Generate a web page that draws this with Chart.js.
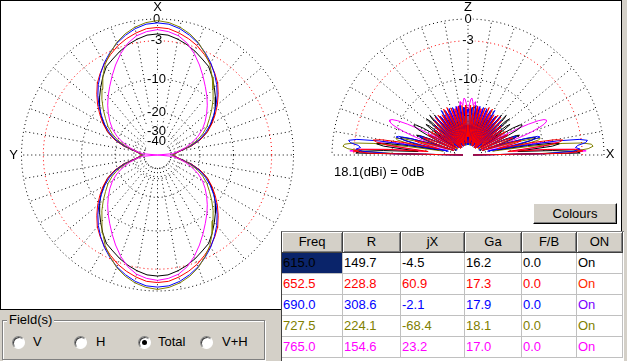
<!DOCTYPE html>
<html>
<head>
<meta charset="utf-8">
<script src="https://cdn.jsdelivr.net/npm/chart.js@4.4.1/dist/chart.umd.min.js"></script>
<style>
*{box-sizing:border-box;}
html,body{margin:0;padding:0;}
body{width:627px;height:361px;background:#d4d0c8;position:relative;overflow:hidden;font-family:"Liberation Sans",Arial,sans-serif;font-size:13px;color:#000;}
#panel{position:absolute;left:0;top:0;width:622px;height:310px;background:#fff;border:1px solid #000;}
#cvL{position:absolute;left:1px;top:1px;}
#cvR{position:absolute;left:300px;top:1px;}
#btn{position:absolute;left:533px;top:203px;width:84px;height:21px;background:#d4d0c8;border:1px solid;border-color:#fff #000 #000 #fff;box-shadow:inset -1px -1px #808080;text-align:center;line-height:19px;}
#grid{position:absolute;left:281px;top:231px;width:343px;height:130px;border-left:1px solid #404040;border-top:1px solid #808080;background:#fff;}
.c{position:absolute;height:21px;line-height:20px;white-space:nowrap;overflow:hidden;border-right:1px solid #c0c0c0;border-bottom:1px solid #c0c0c0;padding-left:1px;}
.h{background:#d4d0c8;text-align:center;border-right:1px solid #404040;border-bottom:1px solid #404040;box-shadow:inset 1px 1px #fff, inset -1px -1px #808080;padding-left:0;}
.sel{background:#0a246a;}
#grp{position:absolute;left:2px;top:320px;width:263px;height:40px;border:1px solid #808080;box-shadow:1px 1px #fff, inset 1px 1px #fff;}
#grpt{position:absolute;left:7px;top:312px;background:#d4d0c8;padding:0 2px;line-height:16px;}
.rb{position:absolute;width:13px;height:13px;border-radius:50%;background:#fff;border:1px solid;border-color:#808080 #fff #fff #808080;box-shadow:inset 1px 1px #404040;}
.rb.on::after{content:"";position:absolute;left:3px;top:3px;width:5px;height:5px;border-radius:50%;background:#000;}
.rl{position:absolute;line-height:16px;}
</style>
</head>
<body>
<div id="panel"></div>
<canvas id="cvL" width="299" height="308"></canvas>
<canvas id="cvR" width="321" height="199"></canvas>
<div id="btn">Colours</div>
<div id="grid"></div>
<div id="grp"></div>
<div id="grpt">Field(s)</div>
<script>
// ---------- data ----------
const FREQS = ['615.0','652.5','690.0','727.5','765.0'];
const SERIES_COLORS = ['#000000','#ff0000','#0000ff','#808000','#ff00ff'];
const R_VALS = ['149.7','228.8','308.6','224.1','154.6'];
const JX_VALS = ['-4.5','60.9','-2.1','-68.4','23.2'];
const GA_VALS = ['16.2','17.3','17.9','18.1','17.0'];
const FB_VALS = ['0.0','0.0','0.0','0.0','0.0'];
const ON_VALS = ['On','On','On','On','On'];
const ON_COLORS = ['#000000','#ff2a00','#7a00ff','#808000','#ff00ff'];
const TABLE_HEADERS = ['Freq','R','jX','Ga','F/B','ON'];
const FIELD_OPTIONS = ['V','H','Total','V+H'];
const FIELD_SELECTED = 'Total';

// ring levels (dB) and their tick labels
const GRID_LEVELS = [0,-3,-10,-20,-30,-40];
const GRID_LABELS = ['0','-3','-10','-20','-30','-40'];
const REF_TEXT = '18.1(dBi) = 0dB';

// horizontal (azimuth) pattern, angle from X axis, dB (one quadrant; pattern is symmetric)
const AZ_ANGLES = [0,5,10,15,20,25,30,35,40,45,50,55,60,65,70,75,80,85,90];
const AZ_615 = [-2.0,-2.1,-2.5,-3.0,-3.6,-4.3,-4.9,-6.1,-7.4,-8.7,-10.1,-11.6,-13.5,-15.5,-18.6,-23.3,-30.5,-34.7,-37.8];
const AZ_652 = [-1.1,-1.2,-1.6,-2.1,-2.7,-3.5,-4.3,-5.3,-6.4,-7.9,-9.5,-11.3,-13.2,-15.5,-18.6,-23.3,-30.5,-34.7,-37.8];
const AZ_690 = [-0.5,-0.6,-1.0,-1.6,-2.3,-3.2,-4.2,-5.4,-6.7,-8.2,-9.9,-11.8,-13.8,-16.2,-19.2,-24.0,-31.3,-35.7,-37.8];
const AZ_727 = [-0.2,-0.4,-0.8,-1.4,-2.2,-3.3,-4.5,-6.1,-7.8,-9.4,-11.2,-13.1,-14.9,-17.2,-20.2,-24.8,-32.1,-35.7,-37.8];
const AZ_765 = [-1.4,-1.6,-2.0,-2.8,-4.0,-5.4,-6.9,-8.4,-9.8,-11.3,-12.9,-14.6,-16.5,-19.0,-22.3,-26.5,-31.3,-37.8,-100];

// vertical (elevation) pattern, elevation 0..90 deg, dB (mirrored to 180)
const EL_ANGLES = [0,1,2,3,4,5,6,7,8,9,10,11,12,13,14,15,16,17,18,19,20,21,22,23,24,25,26,27,28,29,30,31,32,33,34,35,36,37,38,39,40,41,42,43,44,45,46,47,48,49,50,51,52,53,54,55,56,57,58,59,60,61,62,63,64,65,66,67,68,69,70,71,72,73,74,75,76,77,78,79,80,81,82,83,84,85,86,87,88,89,90];
const EL_615 = [-56.7,-3.3,-4.0,-8.1,-17.2,-14.0,-8.1,-6.7,-8.1,-14.0,
 -25.9,-21.0,-15.5,-12.7,-11.4,-11.9,-14.6,-21.0,-31.3,-23.3,
 -17.9,-15.5,-16.5,-21.0,-32.9,-27.1,-19.0,-15.5,-14.0,-13.5,
 -14.0,-16.5,-23.3,-37.8,-25.9,-19.0,-16.5,-17.9,-29.1,-34.7,
 -20.2,-15.5,-17.2,-31.3,-29.1,-17.2,-15.5,-25.9,-39.0,-19.0,
 -16.5,-23.3,-41.7,-21.0,-17.9,-29.1,-37.8,-20.2,-19.0,-37.8,
 -29.1,-21.0,-25.9,-41.7,-22.8,-21.9,-37.8,-31.3,-23.3,-29.1,
 -41.7,-25.9,-23.3,-37.8,-32.9,-23.6,-31.3,-41.7,-25.9,-24.8,
 -39.0,-32.9,-24.8,-29.1,-41.7,-27.1,-25.9,-37.8,-31.3,-25.9,
 -27.1];
const EL_652 = [-56.7,-5.6,-2.9,-4.0,-9.1,-21.0,-15.5,-9.1,-6.7,-6.0,
 -7.5,-12.7,-25.9,-23.3,-17.2,-15.5,-17.9,-25.9,-37.8,-25.9,
 -20.2,-17.9,-19.4,-25.9,-39.0,-25.9,-20.2,-19.0,-23.3,-37.8,
 -29.1,-21.0,-19.4,-24.8,-41.7,-25.9,-20.2,-21.9,-34.7,-32.9,
 -21.0,-19.4,-31.3,-44.8,-22.8,-17.9,-28.4,-44.8,-25.9,-17.2,
 -23.8,-44.8,-28.4,-17.2,-21.0,-41.7,-32.9,-17.9,-18.6,-39.0,
 -37.8,-19.4,-16.5,-31.3,-44.8,-21.9,-16.5,-24.8,-44.8,-25.9,
 -17.2,-20.2,-41.7,-31.3,-17.9,-17.9,-37.8,-34.7,-18.6,-17.2,
 -32.9,-41.7,-21.0,-17.2,-25.9,-41.7,-24.8,-17.2,-20.2,-34.7,
 -25.9];
const EL_690 = [-56.7,-10.2,-4.4,-3.3,-4.0,-3.6,-2.4,-2.1,-3.3,-7.1,
 -17.2,-32.9,-19.0,-12.7,-10.4,-10.9,-14.0,-21.9,-37.8,-24.8,
 -19.0,-16.5,-17.9,-24.8,-41.7,-27.1,-21.0,-19.4,-21.9,-32.9,
 -37.8,-24.8,-21.0,-22.8,-34.7,-31.3,-21.9,-20.2,-29.1,-41.7,
 -29.1,-19.0,-21.0,-39.0,-41.7,-21.0,-17.9,-29.1,-44.8,-27.1,
 -17.2,-21.9,-44.8,-34.7,-17.9,-18.6,-39.0,-41.7,-21.0,-16.5,
 -25.9,-44.8,-27.1,-17.2,-19.4,-41.7,-34.7,-17.9,-17.2,-37.8,
 -41.7,-21.0,-17.2,-23.3,-44.8,-27.1,-17.2,-19.4,-39.0,-32.9,
 -18.6,-17.2,-31.3,-41.7,-21.0,-17.9,-27.1,-44.8,-25.9,-18.6,
 -19.4];
const EL_727 = [-56.7,-11.4,-4.4,-2.1,-1.4,-1.6,-2.9,-6.2,-14.0,-29.1,
 -21.0,-13.5,-10.9,-10.4,-11.9,-16.5,-25.9,-37.8,-25.9,-19.0,
 -17.2,-17.9,-21.0,-29.1,-37.8,-25.9,-21.0,-20.2,-22.8,-31.3,
 -41.7,-27.1,-21.9,-21.0,-24.8,-37.8,-29.1,-23.3,-25.9,-37.8,
 -27.1,-21.9,-32.9,-44.8,-25.9,-21.0,-31.3,-44.8,-29.8,-21.0,
 -25.9,-44.8,-34.7,-21.9,-22.8,-41.7,-39.0,-22.8,-21.0,-36.7,
 -44.8,-24.8,-20.2,-29.8,-44.8,-28.4,-20.2,-24.8,-44.8,-32.9,
 -21.0,-21.9,-41.7,-36.7,-21.0,-20.2,-36.7,-44.8,-23.8,-19.4,
 -28.4,-44.8,-27.1,-20.2,-22.8,-41.7,-32.9,-21.0,-21.0,-34.7,
 -29.1];
const EL_765 = [-56.7,-5.3,-2.4,-3.6,-9.1,-19.0,-14.0,-8.7,-7.1,-8.1,
 -12.7,-23.3,-31.3,-21.0,-18.6,-21.9,-32.9,-25.9,-19.0,-14.6,
 -11.9,-10.0,-8.7,-8.1,-7.9,-8.3,-9.5,-11.9,-15.5,-21.9,
 -32.9,-25.9,-21.9,-23.3,-34.7,-29.1,-22.8,-21.0,-27.1,-41.7,
 -37.8,-25.9,-21.9,-32.9,-44.8,-29.1,-21.0,-25.9,-41.7,-34.7,
 -21.9,-20.2,-32.9,-44.8,-25.9,-19.4,-24.8,-41.7,-32.9,-20.2,
 -19.0,-31.3,-44.8,-23.3,-18.6,-25.9,-41.7,-27.1,-18.6,-21.0,
 -39.0,-31.3,-19.4,-17.9,-32.9,-37.8,-21.0,-17.2,-23.3,-37.8,
 -25.9,-17.2,-15.9,-16.5,-17.2,-15.9,-14.9,-15.2,-16.5,-18.6,
 -20.2];

const AZ_SERIES = [AZ_615, AZ_652, AZ_690, AZ_727, AZ_765];
const EL_SERIES = [EL_615, EL_652, EL_690, EL_727, EL_765];
// drawing order (higher drawn first, i.e. underneath)
const AZ_ORDER = [5,4,3,2,1];
const EL_ORDER = [3,1,2,4,5];

// ---------- UI (table, radios) ----------
(function buildUI(){
  const g = document.getElementById('grid');
  const lefts = [0,61,119,183,240,295], widths = [61,58,64,57,55,46];
  TABLE_HEADERS.forEach((h,i)=>{
    const d=document.createElement('div'); d.className='c h';
    d.style.left=lefts[i]+'px'; d.style.top='0px'; d.style.width=widths[i]+'px'; d.textContent=h; g.appendChild(d);
  });
  FREQS.forEach((f,r)=>{
    const vals=[f,R_VALS[r],JX_VALS[r],GA_VALS[r],FB_VALS[r],ON_VALS[r]];
    vals.forEach((v,i)=>{
      const d=document.createElement('div'); d.className='c'+(r===0&&i===0?' sel':'');
      d.style.left=lefts[i]+'px'; d.style.top=(21+21*r)+'px'; d.style.width=widths[i]+'px';
      d.style.color = i===5 ? ON_COLORS[r] : SERIES_COLORS[r];
      d.textContent=v; g.appendChild(d);
    });
  });
  const cxs=[12,74,138,200], lx=[33,96,158,222];
  FIELD_OPTIONS.forEach((o,i)=>{
    const b=document.createElement('div'); b.className='rb'+(o===FIELD_SELECTED?' on':'');
    b.style.left=cxs[i]+'px'; b.style.top='336px'; document.body.appendChild(b);
    const l=document.createElement('div'); l.className='rl'; l.textContent=o;
    l.style.left=lx[i]+'px'; l.style.top='334px'; document.body.appendChild(l);
  });
})();

// ---------- polar helpers (ARRL log scale: 0.89 per 2 dB) ----------
const R0 = 136;
function rad(db){ return db <= -99 ? 0 : R0*Math.pow(0.89, -db/2); }
function azPoints(vals){
  const pts=[], n=AZ_ANGLES.length;
  const push=(phi,db)=>{const r=rad(db), a=phi*Math.PI/180; pts.push({x:r*Math.sin(a), y:r*Math.cos(a)});};
  for(let i=0;i<n;i++) push(AZ_ANGLES[i], vals[i]);
  for(let i=n-2;i>=0;i--) push(180-AZ_ANGLES[i], vals[i]);
  for(let i=1;i<n;i++) push(180+AZ_ANGLES[i], vals[i]);
  for(let i=n-2;i>=0;i--) push(360-AZ_ANGLES[i], vals[i]);
  return pts;
}
function elPoints(vals){
  const pts=[], n=EL_ANGLES.length;
  const push=(t,db)=>{const r=rad(db), a=t*Math.PI/180; pts.push({x:r*Math.cos(a), y:r*Math.sin(a)});};
  for(let i=0;i<n;i++) push(EL_ANGLES[i], vals[i]);
  for(let i=n-2;i>=0;i--) push(180-EL_ANGLES[i], vals[i]);
  return pts;
}
function ring(level, from, to){
  const r=rad(level), pts=[];
  for(let a=from;a<=to;a+=2){const t=a*Math.PI/180; pts.push({x:r*Math.cos(t), y:r*Math.sin(t)});}
  return pts;
}
function spoke(deg){
  const t=deg*Math.PI/180, r1=rad(GRID_LEVELS[GRID_LEVELS.length-1]), r2=rad(GRID_LEVELS[0]);
  return [{x:r1*Math.cos(t),y:r1*Math.sin(t)},{x:r2*Math.cos(t),y:r2*Math.sin(t)}];
}
function gridSets(from,to){
  const sets=[];
  const base={showLine:true,fill:false,pointRadius:0,borderWidth:1,borderDash:[1,3]};
  for(let a=from;a<=to;a+=10){
    if(to-from===360 && a===to) continue;
    sets.push(Object.assign({},base,{data:spoke(a),borderColor:'#000',order:103}));
  }
  GRID_LEVELS.forEach((lv,i)=>{
    sets.push(Object.assign({},base,{data:ring(lv,from,to),borderColor:lv===-3?'#ff0000':'#000',order:i===0?101:102,labelsAfter:i===0}));
  });
  return sets;
}
function curveSets(series, fn, orders){
  return series.map((v,i)=>({label:FREQS[i],data:fn(v),showLine:true,fill:false,pointRadius:0,borderWidth:1,
    borderColor:SERIES_COLORS[i],order:orders[i]}));
}

const polarText = {
  id:'polarText',
  afterDatasetDraw(chart,args,opts){
    const ds=chart.data.datasets[args.index];
    if(!ds.labelsAfter) return;
    const {ctx}=chart, sx=chart.scales.x, sy=chart.scales.y;
    ctx.save();
    ctx.font='13px "Liberation Sans", Arial, sans-serif';
    ctx.textBaseline='middle';
    for(const l of opts.items){
      const px=sx.getPixelForValue(l.x), py=sy.getPixelForValue(l.y);
      ctx.textAlign=l.align||'center';
      if(l.bg){const w=ctx.measureText(l.text).width; ctx.fillStyle='#fff'; ctx.fillRect(px-w/2-1,py-6,w+2,12);}
      ctx.fillStyle='#000';
      ctx.fillText(l.text,px,py);
    }
    ctx.restore();
  }
};

function makeChart(id,cx,cy,datasets,items){
  const cv=document.getElementById(id), W=cv.width, H=cv.height;
  return new Chart(cv,{
    type:'scatter',
    data:{datasets},
    options:{
      responsive:false, animation:false, devicePixelRatio:1, events:[],
      layout:{padding:0},
      plugins:{legend:{display:false},tooltip:{enabled:false},polarText:{items}},
      scales:{
        x:{type:'linear',display:false,bounds:'data',min:-cx,max:W-cx},
        y:{type:'linear',display:false,bounds:'data',min:-(H-cy),max:cy}
      },
      elements:{point:{radius:0,hoverRadius:0},line:{tension:0}}
    },
    plugins:[polarText]
  });
}

const leftItems = GRID_LEVELS.map((lv,i)=>({text:GRID_LABELS[i],x:-1,y:rad(lv),bg:true}))
  .concat([{text:'X',x:0,y:R0+12},{text:'Y',x:-(R0+8),y:0}]);
makeChart('cvL',156.5,154,gridSets(0,360).concat(curveSets(AZ_SERIES,azPoints,AZ_ORDER)),leftItems);

const rightItems = GRID_LEVELS.map((lv,i)=>({text:GRID_LABELS[i],x:0,y:rad(lv),bg:true}))
  .concat([{text:'Z',x:0,y:R0+12},{text:'X',x:R0+6,y:1},{text:REF_TEXT,x:-R0+2,y:-17,align:'left'}]);
makeChart('cvR',168,154,gridSets(0,180).concat(curveSets(EL_SERIES,elPoints,EL_ORDER)),rightItems);
</script>
</body>
</html>
